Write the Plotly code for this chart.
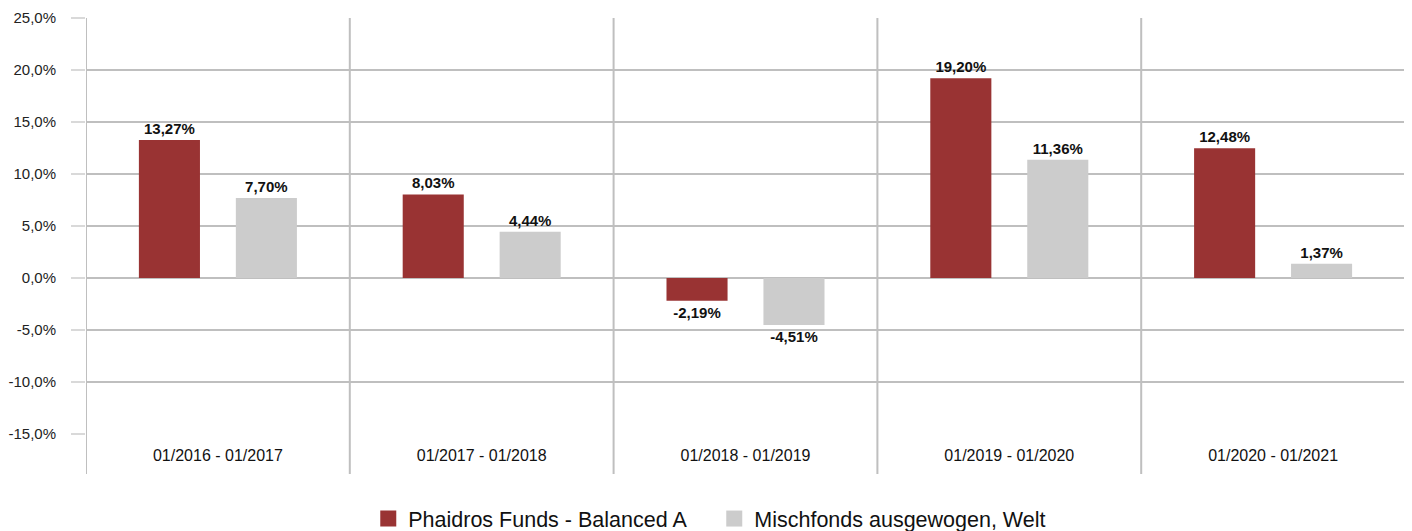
import plotly.graph_objects as go

categories = ["01/2016 - 01/2017", "01/2017 - 01/2018", "01/2018 - 01/2019",
              "01/2019 - 01/2020", "01/2020 - 01/2021"]
fund_name = "Phaidros Funds - Balanced A"
fund_values = [13.27, 8.03, -2.19, 19.20, 12.48]
peer_name = "Mischfonds ausgewogen, Welt"
peer_values = [7.70, 4.44, -4.51, 11.36, 1.37]
y_ticks = [-15, -10, -5, 0, 5, 10, 15, 20, 25]
y_ticktext = [f"{v:.1f}%".replace(".", ",") for v in y_ticks]

RED = "#993333"
GRAY = "#cccccc"
GRID = "#bfbfbf"
FONT = "Liberation Sans, Arial, sans-serif"

fig = go.Figure()
for name, vals, col in [(fund_name, fund_values, RED), (peer_name, peer_values, GRAY)]:
    fig.add_trace(go.Bar(
        x=categories, y=vals, name=name, marker=dict(color=col, line=dict(width=0)),
        text=[f"<b>{v:.2f}%</b>".replace(".", ",") for v in vals], textposition="outside",
        textfont=dict(family=FONT, size=15, color="#111111"),
        constraintext="none", cliponaxis=False, showlegend=False,
    ))
    fig.add_trace(go.Scatter(
        x=[None], y=[None], mode="markers", name=name,
        marker=dict(symbol="square", size=18, color=col), showlegend=True,
    ))

for i in range(len(categories)):
    fig.add_shape(type="line", xref="x", yref="paper", x0=i - 0.5, x1=i - 0.5,
                  y0=-40 / 416, y1=1, line=dict(color=GRID, width=2), layer="below")

fig.update_layout(
    width=1404, height=523,
    margin=dict(l=78, r=7, t=10, b=97, autoexpand=False),
    paper_bgcolor="white", plot_bgcolor="white",
    barmode="group", bargap=0.265, bargroupgap=0.37,
    font=dict(family=FONT, color="#222222"),
    xaxis=dict(type="category", range=[-0.5, 4.5], showgrid=False, zeroline=False,
               showline=False, ticks="", tickfont=dict(size=16, color="#111111"),
               ticklabelstandoff=10),
    yaxis=dict(range=[-15, 25], tickvals=y_ticks, ticktext=y_ticktext,
               showgrid=True, gridcolor=GRID, gridwidth=2,
               zeroline=True, zerolinecolor=GRID, zerolinewidth=2,
               showline=False, ticks="outside", ticklen=14, tickcolor="#d9d9d9", tickwidth=2,
               tickfont=dict(size=15, color="#222222"), ticklabelstandoff=12),
    legend=dict(orientation="h", xref="paper", yref="paper", x=0.214, xanchor="left",
                y=-0.154, yanchor="top", font=dict(size=21.5, color="#111111"),
                itemsizing="trace", tracegroupgap=0, itemwidth=30,
                entrywidth=301, entrywidthmode="pixels"),
)

fig.write_html("out.html")
